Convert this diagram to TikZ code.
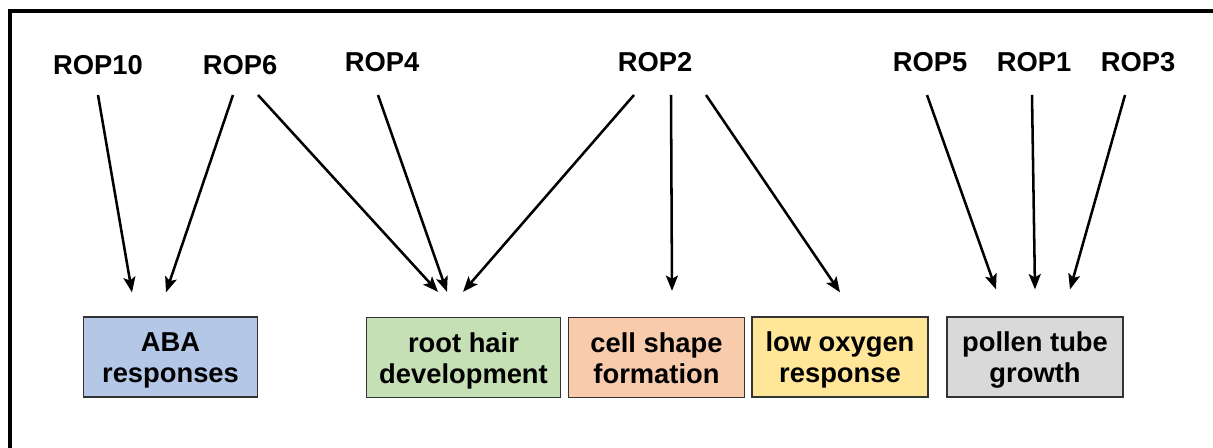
\documentclass[tikz,border=0pt]{standalone}
\usepackage{fontspec}
\setmainfont{Liberation Sans}
\usetikzlibrary{calc,arrows.meta}

\definecolor{abablue}{HTML}{B4C7E7}
\definecolor{rootgreen}{HTML}{C5E0B4}
\definecolor{cellorange}{HTML}{F8CBAD}
\definecolor{oxyellow}{HTML}{FFE699}
\definecolor{pollengray}{HTML}{D9D9D9}

% struts that fix the two baselines inside a process box
\newcommand{\firstln}{\rule{0pt}{20pt}}
\newcommand{\secondln}{\rule[-4.5pt]{0pt}{4.5pt}}

\tikzset{
  rop/.style={font=\fontsize{20.5}{24}\selectfont\bfseries, inner sep=0pt},
  procbox/.style={draw=black!80, line width=0.9pt, minimum height=60pt,
    inner sep=0pt, align=center,
    font=\fontsize{20.5}{23.25}\selectfont\bfseries},
  link/.style={line width=1.9pt, -{Stealth[length=11.5pt,width=9pt,inset=2.5pt]}},
}

\begin{document}
\begin{tikzpicture}[x=0.75pt, y=-0.75pt]
  \useasboundingbox (0,0) rectangle (1213,448);

  % frame
  \draw[line width=2.3pt] (10,460) -- (10,11) -- (1225,11);

  % regulators
  \node[rop] (rop10) at (98,65)   {ROP10};
  \node[rop] (rop6)  at (240,65)  {ROP6};
  \node[rop] (rop4)  at (382,62)  {ROP4};
  \node[rop] (rop2)  at (655,62)  {ROP2};
  \node[rop] (rop5)  at (930,62)  {ROP5};
  \node[rop] (rop1)  at (1034,62) {ROP1};
  \node[rop] (rop3)  at (1138,62) {ROP3};

  % processes
  \node[procbox, fill=abablue,    minimum width=131pt]   (aba)    at (170.5,357)   {\firstln ABA\\responses\secondln};
  \node[procbox, fill=rootgreen,  minimum width=146pt]   (root)   at (463.5,357.5) {\firstln root hair\\development\secondln};
  \node[procbox, fill=cellorange, minimum width=132.5pt] (cell)   at (656.5,357.5) {\firstln cell shape\\formation\secondln};
  \node[procbox, fill=oxyellow,   minimum width=132pt]   (oxy)    at (840,357)     {\firstln low oxygen\\response\secondln};
  \node[procbox, fill=pollengray, minimum width=132pt]   (pollen) at (1035,357)    {\firstln pollen tube\\growth\secondln};

  % regulatory links
  \draw[link] ($(rop10.center)+(0,30)$)  -- ($(aba.north)+(-38.5,-24)$);
  \draw[link] ($(rop6.center)+(-7,30)$)  -- ($(aba.north)+(-4.5,-24)$);
  \draw[link] ($(rop6.center)+(18,30)$)  -- ($(root.north)+(-25.5,-25)$);
  \draw[link] ($(rop4.center)+(-4,33)$)  -- ($(root.north)+(-16.5,-25)$);
  \draw[link] ($(rop2.center)+(-21,33)$) -- ($(root.north)+(-0.5,-25)$);
  \draw[link] ($(rop2.center)+(16,33)$)  -- ($(cell.north)+(15.5,-26)$);
  \draw[link] ($(rop2.center)+(51,33)$)  -- ($(oxy.north)+(0,-24)$);
  \draw[link] ($(rop5.center)+(-3,33)$)  -- ($(pollen.north)+(-39,-27)$);
  \draw[link] ($(rop1.center)+(-2,33)$)  -- ($(pollen.north)+(0,-27)$);
  \draw[link] ($(rop3.center)+(-13,33)$) -- ($(pollen.north)+(35,-27)$);
\end{tikzpicture}
\end{document}
